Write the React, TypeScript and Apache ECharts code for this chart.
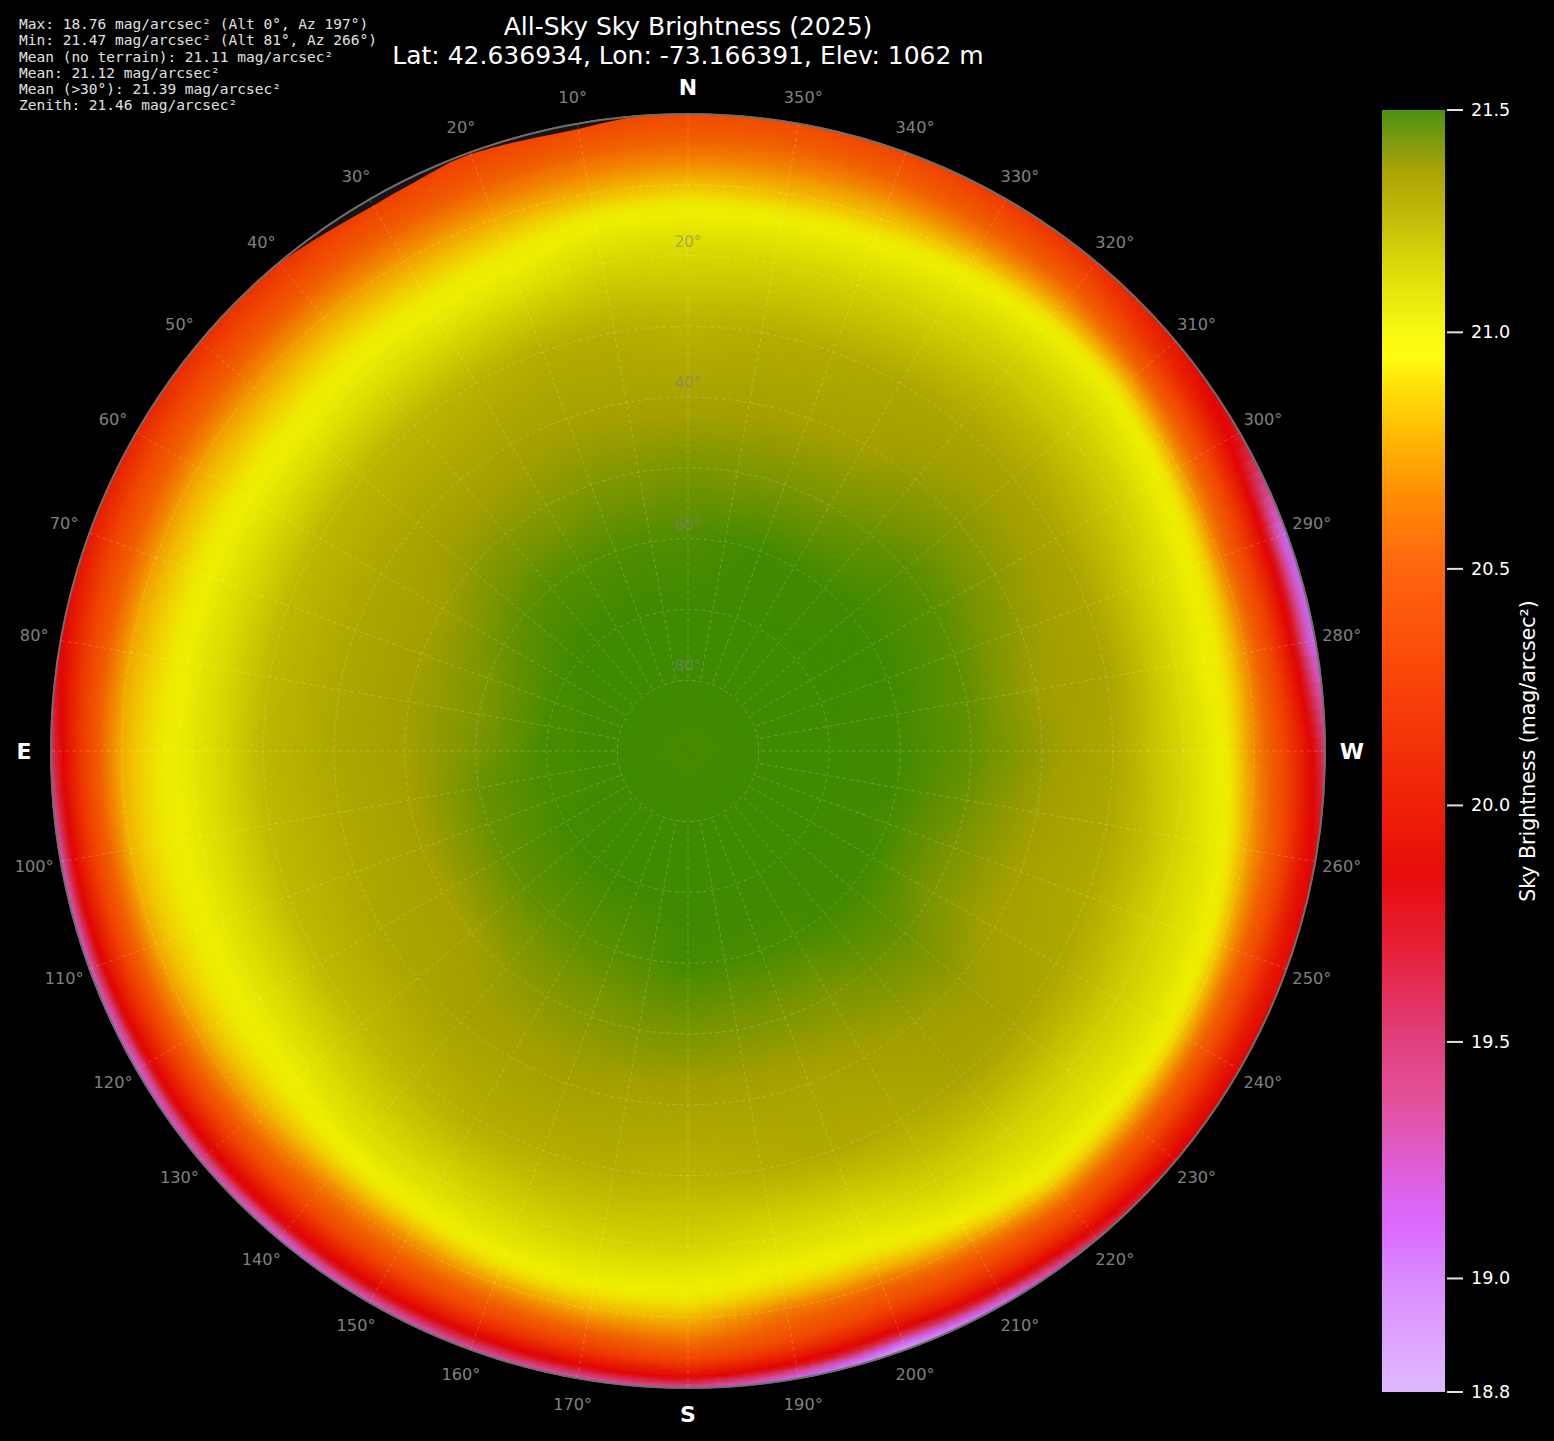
import React, { useEffect, useRef } from "react";
import * as echarts from "echarts";

const titleLines = ["All-Sky Sky Brightness (2025)", "Lat: 42.636934, Lon: -73.166391, Elev: 1062 m"];
const statLines = [
  "Max: 18.76 mag/arcsec² (Alt 0°, Az 197°)",
  "Min: 21.47 mag/arcsec² (Alt 81°, Az 266°)",
  "Mean (no terrain): 21.11 mag/arcsec²",
  "Mean: 21.12 mag/arcsec²",
  "Mean (>30°): 21.39 mag/arcsec²",
  "Zenith: 21.46 mag/arcsec²",
];

const cbarMin = 18.76;
const cbarMax = 21.47;
const cbarTicks = [18.76, 19, 19.5, 20, 20.5, 21, 21.47];
const colorbarLabel = "Sky Brightness (mag/arcsec²)";

const stopValues = [18.76, 19.0, 19.1, 19.17, 19.38, 19.5, 19.7, 19.85, 20.0, 20.3, 20.5, 20.65, 20.8, 20.9, 20.95, 21.0, 21.08, 21.15, 21.22, 21.29, 21.34, 21.41, 21.47];
const barColors = ["#dfb9ff", "#da8aff", "#dc6cff", "#dc64f0", "#e4509a", "#e0407f", "#e62038", "#e80c0c", "#ee2008", "#fa4a08", "#ff6510", "#ff8c05", "#ffc005", "#ffe80a", "#fffc10", "#f8f810", "#e8e80c", "#d9d60a", "#c9c108", "#b8af08", "#aca406", "#789a10", "#4c9010"];
const mapColors = ["#d8b0f5", "#d080f0", "#d068f0", "#cc60e0", "#d5488f", "#d03a70", "#da1a28", "#e00606", "#e61c02", "#f04800", "#f06000", "#f28400", "#f2b800", "#f0dc00", "#eeea00", "#eeee00", "#dfdf00", "#d0cd00", "#c0ba00", "#b0aa00", "#a5a000", "#749400", "#3f8a00"];

// Altitude levels (degrees) of each azimuth column below
const altLevels = [0, 1, 2, 3, 4, 6, 8, 10, 12, 14, 16, 18, 20, 25, 30, 40, 50, 60, 70, 80, 90];

const az000 = [20.33, 20.37, 20.42, 20.47, 20.52, 20.62, 20.72, 20.82, 20.91, 20.99, 21.04, 21.08, 21.11, 21.18, 21.25, 21.32, 21.40, 21.45, 21.47, 21.47, 21.46];
const az010 = [20.28, 20.32, 20.37, 20.42, 20.48, 20.6, 20.69, 20.78, 20.88, 20.97, 21.03, 21.07, 21.11, 21.19, 21.27, 21.325, 21.39, 21.45, 21.47, 21.47, 21.46];
const az020 = [20.25, 20.29, 20.34, 20.39, 20.44, 20.55, 20.66, 20.75, 20.83, 20.9, 20.96, 21.01, 21.06, 21.17, 21.27, 21.33, 21.39, 21.45, 21.47, 21.47, 21.46];
const az030 = [20.2, 20.25, 20.3, 20.35, 20.4, 20.52, 20.63, 20.72, 20.8, 20.87, 20.93, 20.99, 21.04, 21.15, 21.25, 21.325, 21.38, 21.445, 21.47, 21.47, 21.46];
const az040 = [20.15, 20.2, 20.25, 20.31, 20.37, 20.5, 20.62, 20.72, 20.8, 20.87, 20.93, 20.99, 21.04, 21.14, 21.24, 21.31, 21.38, 21.445, 21.47, 21.47, 21.46];
const az050 = [20.12, 20.17, 20.22, 20.28, 20.34, 20.47, 20.6, 20.7, 20.78, 20.85, 20.91, 20.97, 21.02, 21.13, 21.235, 21.31, 21.37, 21.435, 21.47, 21.47, 21.46];
const az060 = [20.05, 20.12, 20.19, 20.26, 20.33, 20.47, 20.6, 20.72, 20.8, 20.86, 20.92, 20.98, 21.03, 21.13, 21.23, 21.305, 21.345, 21.42, 21.465, 21.47, 21.46];
const az070 = [19.98, 20.05, 20.13, 20.21, 20.29, 20.44, 20.59, 20.72, 20.8, 20.87, 20.93, 20.99, 21.04, 21.13, 21.225, 21.3, 21.345, 21.4, 21.46, 21.47, 21.46];
const az080 = [19.82, 19.92, 20.02, 20.12, 20.22, 20.41, 20.6, 20.75, 20.82, 20.88, 20.94, 20.99, 21.04, 21.13, 21.225, 21.3, 21.345, 21.395, 21.46, 21.47, 21.46];
const az090 = [19.5, 19.72, 19.88, 20.02, 20.15, 20.38, 20.62, 20.76, 20.84, 20.9, 20.95, 21.0, 21.04, 21.13, 21.23, 21.3, 21.34, 21.4, 21.46, 21.47, 21.46];
const az100 = [19.2, 19.55, 19.85, 20.0, 20.13, 20.38, 20.6, 20.78, 20.85, 20.91, 20.96, 21.0, 21.04, 21.13, 21.22, 21.29, 21.335, 21.42, 21.46, 21.47, 21.46];
const az110 = [19.2, 19.5, 19.82, 19.97, 20.1, 20.36, 20.58, 20.75, 20.84, 20.9, 20.95, 21.0, 21.04, 21.13, 21.22, 21.29, 21.335, 21.42, 21.46, 21.47, 21.46];
const az120 = [19.15, 19.35, 19.75, 19.92, 20.05, 20.3, 20.55, 20.7, 20.82, 20.89, 20.95, 21.0, 21.04, 21.13, 21.22, 21.3, 21.335, 21.425, 21.465, 21.47, 21.46];
const az130 = [19.25, 19.45, 19.8, 19.92, 20.05, 20.3, 20.52, 20.68, 20.8, 20.88, 20.95, 21.0, 21.05, 21.14, 21.22, 21.31, 21.34, 21.43, 21.465, 21.47, 21.46];
const az140 = [19.15, 19.35, 19.75, 19.9, 20.02, 20.27, 20.48, 20.62, 20.78, 20.9, 20.99, 21.05, 21.09, 21.17, 21.24, 21.325, 21.365, 21.43, 21.47, 21.47, 21.46];
const az150 = [19.2, 19.45, 19.78, 19.92, 20.05, 20.3, 20.5, 20.65, 20.8, 20.92, 21.01, 21.06, 21.1, 21.19, 21.27, 21.325, 21.38, 21.435, 21.47, 21.47, 21.46];
const az160 = [19.28, 19.55, 19.8, 19.95, 20.1, 20.35, 20.55, 20.72, 20.87, 20.98, 21.04, 21.08, 21.12, 21.2, 21.27, 21.335, 21.385, 21.44, 21.47, 21.47, 21.46];
const az170 = [19.25, 19.55, 19.85, 20.0, 20.15, 20.4, 20.62, 20.78, 20.9, 21.0, 21.05, 21.09, 21.13, 21.2, 21.27, 21.325, 21.395, 21.45, 21.47, 21.47, 21.46];
const az180 = [19.3, 19.65, 19.95, 20.1, 20.28, 20.52, 20.68, 20.8, 20.91, 20.99, 21.04, 21.08, 21.13, 21.19, 21.25, 21.32, 21.40, 21.465, 21.47, 21.47, 21.46];
const az190 = [19.05, 19.35, 19.78, 19.95, 20.1, 20.35, 20.5, 20.62, 20.8, 20.92, 21.0, 21.05, 21.09, 21.18, 21.27, 21.32, 21.395, 21.46, 21.47, 21.47, 21.46];
const az200 = [18.82, 19.05, 19.5, 19.8, 19.98, 20.22, 20.42, 20.58, 20.77, 20.9, 21.0, 21.05, 21.09, 21.19, 21.29, 21.32, 21.395, 21.46, 21.47, 21.47, 21.46];
const az210 = [19.0, 19.3, 19.7, 19.9, 20.05, 20.28, 20.5, 20.7, 20.87, 21.0, 21.06, 21.1, 21.14, 21.22, 21.29, 21.335, 21.395, 21.46, 21.47, 21.47, 21.46];
const az220 = [19.45, 19.72, 19.92, 20.05, 20.18, 20.42, 20.65, 20.85, 20.99, 21.04, 21.08, 21.11, 21.14, 21.23, 21.32, 21.35, 21.415, 21.465, 21.47, 21.47, 21.46];
const az230 = [19.8, 19.88, 19.98, 20.08, 20.2, 20.43, 20.66, 20.85, 20.99, 21.04, 21.08, 21.11, 21.14, 21.23, 21.32, 21.365, 21.42, 21.465, 21.47, 21.47, 21.46];
const az240 = [19.85, 19.9, 19.98, 20.08, 20.2, 20.43, 20.66, 20.86, 21.0, 21.05, 21.09, 21.12, 21.15, 21.23, 21.305, 21.335, 21.395, 21.465, 21.47, 21.47, 21.46];
const az250 = [19.88, 19.93, 20.0, 20.08, 20.2, 20.42, 20.63, 20.82, 20.97, 21.03, 21.07, 21.1, 21.13, 21.21, 21.29, 21.335, 21.40, 21.46, 21.47, 21.47, 21.46];
const az260 = [19.82, 19.88, 19.95, 20.05, 20.18, 20.42, 20.6, 20.75, 20.9, 21.01, 21.05, 21.09, 21.13, 21.22, 21.30, 21.345, 21.415, 21.465, 21.47, 21.47, 21.46];
const az270 = [19.45, 19.68, 19.87, 19.97, 20.08, 20.3, 20.5, 20.66, 20.82, 20.96, 21.02, 21.07, 21.11, 21.2, 21.30, 21.365, 21.43, 21.465, 21.47, 21.47, 21.46];
const az280 = [19.12, 19.2, 19.47, 19.76, 19.92, 20.2, 20.44, 20.65, 20.82, 20.94, 21.0, 21.05, 21.1, 21.21, 21.32, 21.35, 21.43, 21.465, 21.47, 21.47, 21.46];
const az290 = [19.12, 19.18, 19.45, 19.75, 19.92, 20.18, 20.42, 20.62, 20.84, 20.96, 21.02, 21.07, 21.11, 21.21, 21.31, 21.365, 21.435, 21.47, 21.47, 21.47, 21.46];
const az300 = [19.72, 19.8, 19.87, 19.97, 20.08, 20.32, 20.54, 20.74, 20.92, 21.01, 21.06, 21.11, 21.15, 21.23, 21.315, 21.38, 21.44, 21.47, 21.47, 21.47, 21.46];
const az310 = [19.95, 20.0, 20.06, 20.13, 20.22, 20.45, 20.68, 20.87, 21.0, 21.06, 21.1, 21.14, 21.17, 21.25, 21.32, 21.38, 21.44, 21.47, 21.47, 21.47, 21.46];
const az320 = [20.12, 20.18, 20.25, 20.32, 20.4, 20.58, 20.74, 20.89, 21.0, 21.06, 21.1, 21.14, 21.17, 21.24, 21.31, 21.365, 21.42, 21.465, 21.47, 21.47, 21.46];
const az330 = [20.18, 20.24, 20.3, 20.36, 20.43, 20.58, 20.72, 20.85, 20.96, 21.03, 21.07, 21.11, 21.14, 21.22, 21.30, 21.34, 21.405, 21.465, 21.47, 21.47, 21.46];
const az340 = [20.28, 20.33, 20.39, 20.44, 20.5, 20.62, 20.73, 20.82, 20.92, 21.0, 21.05, 21.09, 21.13, 21.2, 21.28, 21.33, 21.40, 21.465, 21.47, 21.47, 21.46];
const az350 = [20.33, 20.37, 20.42, 20.47, 20.52, 20.62, 20.72, 20.8, 20.9, 20.99, 21.04, 21.08, 21.12, 21.19, 21.27, 21.33, 21.395, 21.46, 21.47, 21.47, 21.46];

const azColumns = [az000, az010, az020, az030, az040, az050, az060, az070, az080, az090, az100, az110, az120, az130, az140, az150, az160, az170, az180, az190, az200, az210, az220, az230, az240, az250, az260, az270, az280, az290, az300, az310, az320, az330, az340, az350];

// Terrain horizon in the north-east
const terrainAz = [4, 6, 8, 10, 12, 14, 16, 18, 20, 22, 24, 26, 28, 30, 32, 34, 36, 38, 40];
const terrainAlt = [0, 0.2, 0.5, 0.75, 0.8, 0.7, 0.55, 0.4, 0.25, 0.3, 0.6, 0.85, 0.95, 1.05, 0.95, 0.8, 0.55, 0.3, 0];

const azLabelValues = [0, 10, 20, 30, 40, 50, 60, 70, 80, 90, 100, 110, 120, 130, 140, 150, 160, 170, 180, 190, 200, 210, 220, 230, 240, 250, 260, 270, 280, 290, 300, 310, 320, 330, 340, 350];
const cardinalNames: Record<number, string> = { 0: "N", 90: "E", 180: "S", 270: "W" };
const altLabelValues = [20, 40, 60, 80];

const FONT = '"DejaVu Sans", sans-serif';

function hexToRgb(h: string) {
  return [parseInt(h.slice(1, 3), 16), parseInt(h.slice(3, 5), 16), parseInt(h.slice(5, 7), 16)];
}
const mapRgb = mapColors.map(hexToRgb);

function mapColor(v: number) {
  let i = 0;
  if (v <= stopValues[0]) i = 0;
  else if (v >= stopValues[stopValues.length - 1]) i = stopValues.length - 2;
  else while (v > stopValues[i + 1]) i++;
  const t = Math.min(1, Math.max(0, (v - stopValues[i]) / (stopValues[i + 1] - stopValues[i])));
  const a = mapRgb[i];
  const b = mapRgb[i + 1];
  const c = [0, 1, 2].map((k) => Math.round(a[k] + (b[k] - a[k]) * t));
  return `rgb(${c[0]},${c[1]},${c[2]})`;
}

const cellData: number[][] = [];
azColumns.forEach((_, ai) => {
  for (let li = 0; li < altLevels.length - 1; li++) cellData.push([altLevels[li], ai * 10, li, ai]);
});

function renderCell(_params: any, api: any) {
  const altLo = api.value(0) as number;
  const azLo = api.value(1) as number;
  const li = api.value(2) as number;
  const ai = api.value(3) as number;
  const altHi = altLevels[li + 1];
  const col0 = azColumns[ai];
  const col1 = azColumns[(ai + 1) % azColumns.length];
  const gap = altHi - altLo;
  const nR = gap <= 1 ? 3 : gap <= 2 ? 6 : gap <= 5 ? 8 : altLo >= 70 ? 4 : 14;
  const nA = altLo >= 70 ? 3 : 8;
  const children: any[] = [];
  const at = (r: number, c: number) => {
    const p = api.coord([altLo + (gap * r) / nR, azLo + (10 * c) / nA]);
    return [p[0], p[1]];
  };
  for (let r = 0; r < nR; r++) {
    for (let c = 0; c < nA; c++) {
      const tr = (r + 0.5) / nR;
      const tc = (c + 0.5) / nA;
      const v0 = col0[li] + (col0[li + 1] - col0[li]) * tr;
      const v1 = col1[li] + (col1[li + 1] - col1[li]) * tr;
      const fill = mapColor(v0 + (v1 - v0) * tc);
      children.push({
        type: "polygon",
        silent: true,
        shape: { points: [at(r, c), at(r, c + 1), at(r + 1, c + 1), at(r + 1, c)] },
        style: { fill, stroke: fill, lineWidth: 1.3 },
      });
    }
  }
  return { type: "group", children };
}

export default function App() {
  const ref = useRef<HTMLDivElement>(null);
  useEffect(() => {
    const chart = echarts.init(ref.current!, null, { renderer: "svg" });
    const terrainData = terrainAz.map((a, i) => [terrainAlt[i], a]);
    const azLabelData = azLabelValues.map((a) => [-3.8, a]);
    const altLabelData = altLabelValues.map((a) => [a, 0]);
    chart.setOption({
      animation: false,
      backgroundColor: "#000000",
      title: {
        text: titleLines.join("\n"),
        left: 688,
        top: 12,
        padding: 0,
        textAlign: "center",
        textStyle: { color: "#ffffff", fontFamily: FONT, fontWeight: "normal", fontSize: 25, lineHeight: 29 },
      },
      graphic: [
        {
          type: "group",
          silent: true,
          children: statLines.map((t, i) => ({
            type: "text",
            x: 19,
            y: 24 + i * 16.25,
            style: { text: t, fill: "#e0e0e0", font: '14.5px "DejaVu Sans Mono", monospace', verticalAlign: "middle" },
          })),
        },
      ],
      polar: { center: [688, 751], radius: [70.6, 637] },
      radiusAxis: {
        type: "value",
        min: 0,
        max: 80,
        interval: 10,
        inverse: true,
        z: 5,
        axisLine: { show: false },
        axisTick: { show: false },
        axisLabel: { show: false },
        splitLine: { show: true, lineStyle: { color: "rgba(255,255,255,0.2)", type: [4, 3], width: 1 } },
      },
      angleAxis: {
        type: "value",
        min: 0,
        max: 360,
        interval: 10,
        startAngle: 90,
        clockwise: false,
        z: 5,
        axisLine: { show: false },
        axisTick: { show: false },
        axisLabel: { show: false },
        splitLine: { show: true, lineStyle: { color: "rgba(255,255,255,0.2)", type: [4, 3], width: 1 } },
      },
      grid: { left: 1382, top: 110, width: 63, height: 1282 },
      xAxis: { type: "value", min: 0, max: 1, show: false },
      yAxis: {
        type: "value",
        min: cbarMin,
        max: cbarMax,
        position: "right",
        name: colorbarLabel,
        nameLocation: "middle",
        nameRotate: 90,
        nameGap: 72,
        nameTextStyle: { color: "#ffffff", fontFamily: FONT, fontSize: 20.5 },
        axisLine: { show: false },
        splitLine: { show: false },
        axisTick: { show: false },
        axisLabel: {
          color: "#ffffff",
          fontFamily: FONT,
          fontSize: 17.6,
          margin: 26,
          customValues: cbarTicks,
          formatter: (v: number) => v.toFixed(1),
        },
      },
      series: [
        {
          type: "custom",
          coordinateSystem: "polar",
          z: 1,
          silent: true,
          clip: false,
          encode: { radius: 0, angle: 1 },
          data: cellData,
          renderItem: renderCell,
        },
        {
          type: "custom",
          coordinateSystem: "polar",
          z: 2,
          silent: true,
          clip: false,
          encode: { radius: 0, angle: 1 },
          data: [[0, terrainAz[0]]],
          renderItem: (_p: any, api: any) => {
            const inner = terrainData.map((d) => api.coord(d));
            const outer = terrainData.slice().reverse().map((d) => api.coord([0, d[1]]));
            return { type: "polygon", silent: true, shape: { points: [...inner, ...outer] }, style: { fill: "#151515" } };
          },
        },
        {
          type: "custom",
          coordinateSystem: "polar",
          z: 6,
          silent: true,
          clip: false,
          encode: { radius: 0, angle: 1 },
          data: [[0, 0]],
          renderItem: (params: any) => ({
            type: "circle",
            silent: true,
            shape: { cx: params.coordSys.cx, cy: params.coordSys.cy, r: params.coordSys.r },
            style: { fill: "none", stroke: "#6e6e6e", lineWidth: 2 },
          }),
        },
        {
          type: "custom",
          coordinateSystem: "polar",
          z: 10,
          silent: true,
          clip: false,
          encode: { radius: 0, angle: 1 },
          data: azLabelData,
          renderItem: (_p: any, api: any) => {
            const az = api.value(1) as number;
            const p = api.coord([api.value(0), az]);
            const name = cardinalNames[az];
            return {
              type: "text",
              silent: true,
              x: p[0],
              y: p[1],
              style: {
                text: name ?? `${az}°`,
                fill: name ? "#ffffff" : "#808080",
                font: name ? `bold 22px ${FONT}` : `16.2px ${FONT}`,
                align: "center",
                verticalAlign: "middle",
              },
            };
          },
        },
        {
          type: "custom",
          coordinateSystem: "polar",
          z: 10,
          silent: true,
          clip: false,
          encode: { radius: 0, angle: 1 },
          data: altLabelData,
          renderItem: (_p: any, api: any) => {
            const alt = api.value(0) as number;
            const p = api.coord([alt, api.value(1)]);
            return {
              type: "text",
              silent: true,
              x: p[0],
              y: p[1] - 14,
              style: {
                text: `${alt}°`,
                fill: "rgba(128,128,128,0.6)",
                font: `15px ${FONT}`,
                align: "center",
                verticalAlign: "middle",
              },
            };
          },
        },
        {
          type: "custom",
          coordinateSystem: "cartesian2d",
          z: 1,
          silent: true,
          data: [[0, cbarMin]],
          renderItem: (_p: any, api: any) => {
            const a = api.coord([0, cbarMax]);
            const b = api.coord([1, cbarMin]);
            return {
              type: "rect",
              silent: true,
              shape: { x: a[0], y: a[1], width: b[0] - a[0], height: b[1] - a[1] },
              style: {
                fill: new echarts.graphic.LinearGradient(
                  0,
                  1,
                  0,
                  0,
                  stopValues.map((v, i) => ({ offset: (v - cbarMin) / (cbarMax - cbarMin), color: barColors[i] }))
                ),
              },
            };
          },
        },
        {
          type: "custom",
          coordinateSystem: "cartesian2d",
          z: 2,
          silent: true,
          data: cbarTicks.map((v) => [1, v]),
          renderItem: (_p: any, api: any) => {
            const p = api.coord([api.value(0), api.value(1)]);
            return {
              type: "line",
              silent: true,
              shape: { x1: p[0] + 2, y1: p[1], x2: p[0] + 18, y2: p[1] },
              style: { stroke: "#e0e0e0", lineWidth: 2 },
            };
          },
        },
      ],
    });
    return () => chart.dispose();
  }, []);
  return <div ref={ref} style={{ position: "fixed", left: 0, top: 0, width: 1554, height: 1441, background: "#000" }} />;
}
